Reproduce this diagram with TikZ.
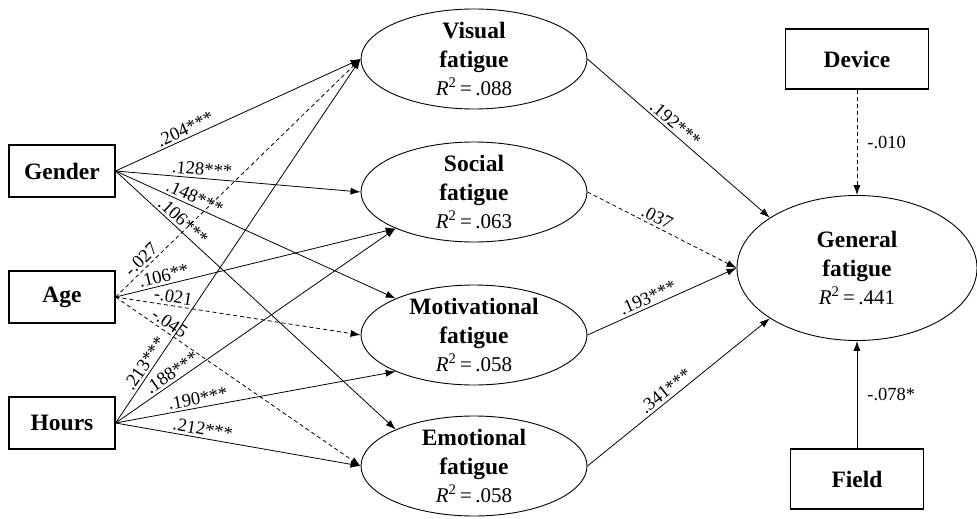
\documentclass[tikz,border=0pt]{standalone}
\usepackage{fontspec}
\setmainfont{Liberation Serif}
\usetikzlibrary{shapes.geometric,arrows.meta}
\tikzset{>={Latex[length=10pt,width=7pt]}}
\newcommand{\rsq}[1]{{\fontsize{21}{28.5}\selectfont\textit{R}\textsuperscript{2}\,=\,#1}}

\begin{document}
\begin{tikzpicture}[x=1pt,y=-1pt,
  obs/.style={draw, line width=1.1pt, minimum height=52pt, inner sep=0pt, font=\fontsize{23.5}{26}\selectfont\bfseries},
  lat/.style={draw, ellipse, line width=0.9pt, minimum width=226pt, minimum height=100pt, inner xsep=0pt, inner ysep=-6pt, align=center, font=\fontsize{23.5}{28.5}\selectfont},
  eff/.style={->, line width=0.8pt},
  nseff/.style={eff, dash pattern=on 4pt off 3pt},
  coef/.style={sloped, above, inner sep=2.5pt, font=\fontsize{18.5}{20}\selectfont},
  side/.style={right, inner sep=0pt, xshift=10pt, font=\fontsize{18.5}{20}\selectfont}]

\useasboundingbox (0,0) rectangle (977,519);

% Observed variables
\node[obs, minimum width=106pt] (gender) at (62,171) {Gender};
\node[obs, minimum width=106pt] (age) at (62,297) {Age};
\node[obs, minimum width=106pt] (hours) at (62,423) {Hours};
\node[obs, minimum width=143pt, minimum height=60pt] (device) at (857,59) {Device};
\node[obs, minimum width=133pt, minimum height=60pt] (field) at (857,479) {Field};

% Fatigue factors
\node[lat] (vis) at (474,59) {\textbf{Visual}\\\textbf{fatigue}\\\rsq{.088}};
\node[lat] (soc) at (474,192) {\textbf{Social}\\\textbf{fatigue}\\\rsq{.063}};
\node[lat] (mot) at (474,335) {\textbf{Motivational}\\\textbf{fatigue}\\\rsq{.058}};
\node[lat] (emo) at (474,466) {\textbf{Emotional}\\\textbf{fatigue}\\\rsq{.058}};
\node[lat, minimum width=240pt, minimum height=145pt] (gen) at (857,268) {\textbf{General}\\\textbf{fatigue}\\\rsq{.441}};

% Gender paths
\draw[eff] (gender.east) -- (vis.west) node[coef, pos=.30] (c1) {.204***};
\draw[eff] (gender.east) -- (soc.west) node[coef, pos=.35] (c2) {.128***};
\draw[eff] (gender.east) -- (mot.155) node[coef, pos=.27] (c3) {.148***};
\draw[eff] (gender.east) -- (emo.155) node[coef, pos=.22] (c4) {.106***};

% Age paths
\draw[nseff] (age.east) -- (vis.west) node[coef, pos=.13] (c5) {-.027};
\draw[eff] (age.east) -- (soc.205) node[coef, pos=.18] (c6) {.106**};
\draw[nseff] (age.east) -- (mot.west) node[coef, pos=.23] (c7) {-.021};
\draw[nseff] (age.east) -- (emo.west) node[coef, pos=.20] (c8) {-.045};

% Hours paths
\draw[eff] (hours.east) -- (vis.west) node[coef, pos=.15] (c9) {.213***};
\draw[eff] (hours.east) -- (soc.205) node[coef, pos=.22] (c10) {.188***};
\draw[eff] (hours.east) -- (mot.205) node[coef, pos=.30] (c11) {.190***};
\draw[eff] (hours.east) -- (emo.west) node[coef, pos=.35] (c12) {.212***};

% Paths to general fatigue
\draw[eff] (vis.east) -- (gen.150) node[coef, pos=.45] (c13) {.192***};
\draw[nseff] (soc.east) -- (gen.west) node[coef, pos=.44] (c14) {.037};
\draw[eff] (mot.east) -- (gen.west) node[coef, pos=.43] (c15) {.193***};
\draw[eff] (emo.east) -- (gen.210) node[coef, pos=.46] (c16) {.341***};
\draw[nseff] (device) -- (gen) node[side, midway] (c17) {-.010};
\draw[eff] (field) -- (gen) node[side, midway] (c18) {-.078*};

\end{tikzpicture}
\end{document}
